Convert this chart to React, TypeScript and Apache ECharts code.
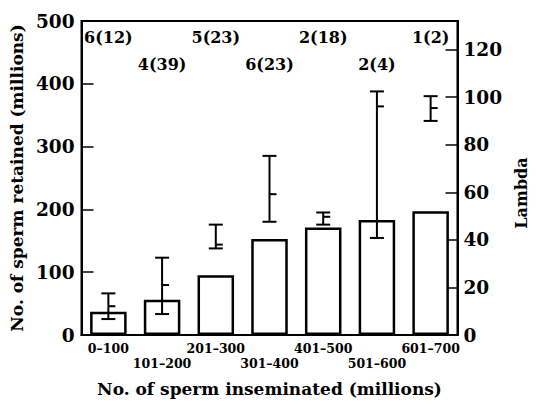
import React, { useEffect, useRef } from "react";
import * as echarts from "echarts";

const categories = ["0–100", "101–200", "201–300", "301–400", "401–500", "501–600", "601–700"];
const retained = [37, 56, 95, 153, 171, 183, 197];
const lambdaLow = [6.7, 8.8, 36.4, 47.6, 46.4, 40.8, 90];
const lambdaMean = [12.1, 21, 38, 59.2, 49.7, 96.1, 95.4];
const lambdaHigh = [17.5, 32.5, 46.4, 75.3, 51.5, 102.4, 100.4];
const sampleLabels = ["6(12)", "4(39)", "5(23)", "6(23)", "2(18)", "2(4)", "1(2)"];

const FONT = "'DejaVu Serif', serif";

export default function App() {
  const ref = useRef<HTMLDivElement>(null);
  useEffect(() => {
    document.body.style.margin = "0";
    const chart = echarts.init(ref.current!, null, { renderer: "svg" });
    const txt = { fontFamily: FONT, fontWeight: "bold" as const, color: "#000" };
    const option: any = {
      animation: false,
      backgroundColor: "#fff",
      textStyle: { fontFamily: FONT },
      grid: { left: 81, right: 67, top: 21, bottom: 64, show: true, borderColor: "#000", borderWidth: 2, backgroundColor: "transparent" },
      xAxis: {
        type: "category",
        data: categories,
        boundaryGap: true,
        name: "No. of sperm inseminated (millions)",
        nameLocation: "middle",
        nameGap: 45,
        nameTextStyle: { ...txt, fontSize: 17 },
        axisLine: { lineStyle: { color: "#000", width: 2 } },
        axisTick: { alignWithLabel: true, inside: true, length: 7, lineStyle: { color: "#000", width: 1.5 } },
        axisLabel: {
          ...txt,
          fontSize: 12.5,
          lineHeight: 15,
          margin: 6,
          interval: 0,
          formatter: (v: string, i: number) => (i % 2 === 1 ? "\n" + v : v),
        },
      },
      yAxis: [
        {
          type: "value",
          min: 0,
          max: 500,
          interval: 100,
          name: "No. of sperm retained (millions)",
          nameLocation: "middle",
          nameGap: 52,
          nameTextStyle: { ...txt, fontSize: 17 },
          axisLine: { show: true, lineStyle: { color: "#000", width: 2 } },
          axisTick: { show: true, inside: true, length: 12, lineStyle: { color: "#000", width: 1.5 } },
          axisLabel: { ...txt, fontSize: 18.5, margin: 7 },
          splitLine: { show: false },
        },
        {
          type: "value",
          min: 0,
          max: 132,
          interval: 20,
          position: "right",
          name: "Lambda",
          nameLocation: "middle",
          nameGap: 54,
          nameRotate: 90,
          nameTextStyle: { ...txt, fontSize: 16, padding: [0, 30, 0, 0] },
          axisLine: { show: true, lineStyle: { color: "#000", width: 2 } },
          axisTick: { show: true, inside: true, length: 12, lineStyle: { color: "#000", width: 1.5 } },
          axisLabel: { ...txt, fontSize: 18.5, margin: 6, showMaxLabel: false },
          splitLine: { show: false },
        },
      ],
      series: [
        {
          type: "bar",
          data: retained,
          barWidth: "68%",
          itemStyle: { color: "#fff", borderColor: "#000", borderWidth: 2.5 },
          z: 2,
        },
        {
          type: "custom",
          yAxisIndex: 1,
          data: categories.map((_, i) => [i, lambdaLow[i], lambdaMean[i], lambdaHigh[i]]),
          renderItem: (params: any, api: any) => {
            const x = api.value(0);
            const lo = api.coord([x, api.value(1)]);
            const mid = api.coord([x, api.value(2)]);
            const hi = api.coord([x, api.value(3)]);
            const cap = 7;
            const style = { stroke: "#000", lineWidth: 2 };
            return {
              type: "group",
              children: [
                { type: "line", shape: { x1: hi[0], y1: hi[1], x2: lo[0], y2: lo[1] }, style },
                { type: "line", shape: { x1: hi[0] - cap, y1: hi[1], x2: hi[0] + cap, y2: hi[1] }, style },
                { type: "line", shape: { x1: lo[0] - cap, y1: lo[1], x2: lo[0] + cap, y2: lo[1] }, style },
                { type: "line", shape: { x1: mid[0], y1: mid[1], x2: mid[0] + cap, y2: mid[1] }, style },
              ],
            };
          },
          z: 3,
        },
        {
          type: "scatter",
          symbolSize: 0,
          itemStyle: { color: "#000", opacity: 1 },
          data: sampleLabels.map((_, i) => [i, i % 2 === 0 ? 474 : 431]),
          label: {
            show: true,
            position: "inside",
            ...txt,
            fontSize: 16,
            opacity: 1,
            textBorderWidth: 0,
            formatter: (p: any) => sampleLabels[p.dataIndex],
          },
          emphasis: { disabled: true },
          z: 4,
        },
      ],
    };
    chart.setOption(option);
    return () => chart.dispose();
  }, []);
  return <div ref={ref} style={{ width: 537, height: 402 }} />;
}
